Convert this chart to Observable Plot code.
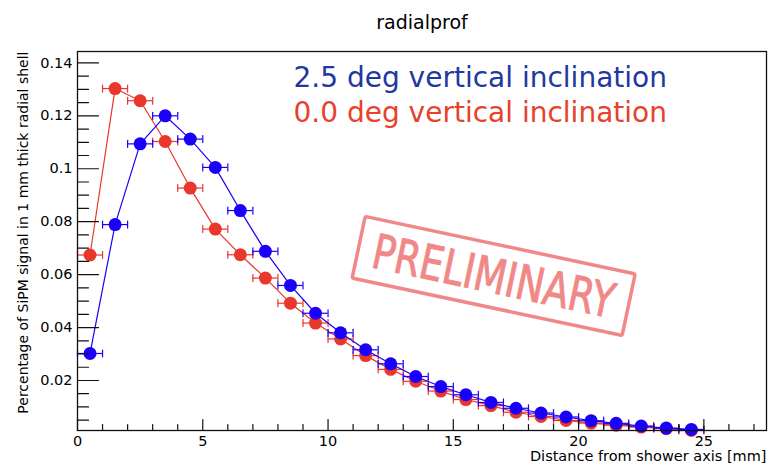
<!DOCTYPE html>
<html><head><meta charset="utf-8">
<script src="https://cdn.jsdelivr.net/npm/d3@7"></script>
<script src="https://cdn.jsdelivr.net/npm/@observablehq/plot@0.6"></script>
<style>html,body{margin:0;padding:0;background:#fff} svg{display:block}</style>
</head><body><div id="chart"></div>
<script>
// ---- data ----
const binCenters = [0.5,1.5,2.5,3.5,4.5,5.5,6.5,7.5,8.5,9.5,10.5,11.5,12.5,13.5,14.5,15.5,16.5,17.5,18.5,19.5,20.5,21.5,22.5,23.5,24.5];
const incl25 = [0.0302,0.0789,0.1094,0.1200,0.1112,0.1005,0.0842,0.0688,0.0559,0.0454,0.0380,0.0316,0.0263,0.0215,0.0177,0.0146,0.0117,0.0095,0.0077,0.0062,0.0048,0.0038,0.0028,0.0020,0.0015];
const incl00 = [0.0674,0.1303,0.1257,0.1103,0.0927,0.0772,0.0675,0.0587,0.0492,0.0417,0.0357,0.0294,0.0242,0.0197,0.0160,0.0128,0.0105,0.0080,0.0064,0.0049,0.0039,0.0031,0.0024,0.0018,0.0011];
const binHalfWidth = 0.5;
const xMajorTicks = [0,5,10,15,20,25];
const xMinorTicks = [1,2,3,4,6,7,8,9,11,12,13,14,16,17,18,19,21,22,23,24,26,27];
const yMajorTicks = [0.02,0.04,0.06,0.08,0.10,0.12,0.14];
const yMinorTicks = [0.005,0.01,0.015,0.025,0.03,0.035,0.045,0.05,0.055,0.065,0.07,0.075,0.085,0.09,0.095,0.105,0.11,0.115,0.125,0.13,0.135];
const titleText = "radialprof";
const xLabel = "Distance from shower axis [mm]";
const yLabel = "Percentage of SiPM signal in 1 mm thick radial shell";
const legendBlue = "2.5 deg vertical inclination";
const legendRed = "0.0 deg vertical inclination";
const stampText = "PRELIMINARY";

// ---- tables ----
const blueData = binCenters.map((x,i)=>({x, y: incl25[i]}));
const redData = binCenters.map((x,i)=>({x, y: incl00[i]}));

const BLUE = "#1a00f8", RED = "#e8372b";
const tickShape = {draw(ctx, l){ ctx.moveTo(0,0); ctx.lineTo(0,-l); }};
const capShape = {draw(ctx, l){ ctx.moveTo(0,l/2); ctx.lineTo(0,-l/2); }};

function series(data, color){
  return [
    Plot.ruleY(data, {y:"y", x1: d=>d.x-binHalfWidth, x2: d=>d.x+binHalfWidth, stroke: color, strokeWidth: 1.2}),
    Plot.vector(data, {x: d=>d.x-binHalfWidth, y:"y", length: 7, rotate: 0, anchor:"start", shape: capShape, stroke: color, strokeWidth: 1.2}),
    Plot.vector(data, {x: d=>d.x+binHalfWidth, y:"y", length: 7, rotate: 0, anchor:"start", shape: capShape, stroke: color, strokeWidth: 1.2}),
    Plot.line(data, {x:"x", y:"y", stroke: color, strokeWidth: 1.2}),
    Plot.dot(data, {x:"x", y:"y", r: 6.5, fill: color})
  ];
}

const chart = Plot.plot({
  width: 769, height: 466,
  marginLeft: 77, marginRight: 3, marginTop: 51, marginBottom: 36,
  style: {fontFamily: "DejaVu Sans", fontSize: "14.5px", background: "#fff", color: "#000"},
  x: {domain: [0, 27.5]},
  y: {domain: [0.0011, 0.1443]},
  marks: [
    ...series(redData, RED),
    ...series(blueData, BLUE),
    Plot.frame({stroke: "#111", strokeWidth: 1.3}),
    Plot.vector(xMajorTicks, {x: d=>d, frameAnchor: "bottom", length: 11, rotate: 0, anchor: "start", shape: tickShape, stroke: "#111", strokeWidth: 1.2}),
    Plot.vector(xMinorTicks, {x: d=>d, frameAnchor: "bottom", length: 6, rotate: 0, anchor: "start", shape: tickShape, stroke: "#111", strokeWidth: 1.2}),
    Plot.vector(yMajorTicks, {y: d=>d, frameAnchor: "left", length: 21, rotate: 90, anchor: "start", shape: tickShape, stroke: "#111", strokeWidth: 1.2}),
    Plot.vector(yMinorTicks, {y: d=>d, frameAnchor: "left", length: 11, rotate: 90, anchor: "start", shape: tickShape, stroke: "#111", strokeWidth: 1.2}),
    Plot.axisX({ticks: xMajorTicks, tickSize: 0, tickPadding: 5, label: null, fontSize: 14.5}),
    Plot.axisY({ticks: yMajorTicks, tickSize: 0, tickPadding: 5, label: null, fontSize: 14.5, tickFormat: d => String(+d.toFixed(3))}),
    Plot.text([titleText], {frameAnchor: "top", lineAnchor: "bottom", dy: -23, fontSize: 19}),
    Plot.text([xLabel], {frameAnchor: "bottom-right", textAnchor: "end", lineAnchor: "bottom", dy: 30, dx: 0, fontSize: 14.5}),
    Plot.text([yLabel], {frameAnchor: "top-left", rotate: -90, textAnchor: "end", dx: -59, dy: 0, fontSize: 14}),
    Plot.text([legendBlue], {frameAnchor: "top-left", textAnchor: "start", lineAnchor: "bottom", dx: 216, dy: 35.7, fontSize: 28, fill: "#2337a0"}),
    Plot.text([legendRed], {frameAnchor: "top-left", textAnchor: "start", lineAnchor: "bottom", dx: 216, dy: 70.7, fontSize: 28, fill: "#e8412c"})
  ]
});

// PRELIMINARY stamp, positioned via the chart scales
const stampPos = {x: 16.63, y: 0.0593, angle: 12};
const cx = chart.scale("x").apply(stampPos.x), cy = chart.scale("y").apply(stampPos.y);
const g = d3.select(chart).append("g")
  .attr("transform", `translate(${cx},${cy}) rotate(${stampPos.angle})`)
  .attr("opacity", 0.9);
g.append("rect").attr("x", -138).attr("y", -31.5).attr("width", 276).attr("height", 63).attr("rx", 2)
  .attr("fill", "none").attr("stroke", "#f07c7c").attr("stroke-width", 3.5);
g.append("text").text(stampText)
  .attr("text-anchor", "middle").attr("dominant-baseline", "central")
  .attr("font-family", "'DejaVu Sans Condensed','Liberation Sans Narrow','DejaVu Sans',sans-serif")
  .attr("font-stretch", "condensed")
  .attr("font-size", 48).attr("fill", "#f07c7c")
  .attr("stroke", "#f07c7c").attr("stroke-width", 0.9)
  .attr("textLength", 246).attr("lengthAdjust", "spacingAndGlyphs");

document.getElementById("chart").appendChild(chart);
</script>
</body></html>
